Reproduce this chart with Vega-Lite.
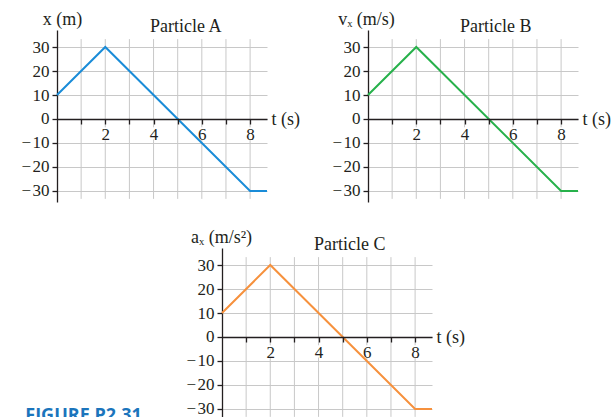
{
  "$schema": "https://vega.github.io/schema/vega-lite/v6.json",
  "background": "white",
  "padding": {"left": 20, "top": 10, "right": 0, "bottom": 0},
  "config": {
    "view": {"stroke": null},
    "font": "Liberation Serif",
    "title": {"font": "Liberation Serif", "fontSize": 18, "fontWeight": "normal", "color": "#231f20", "anchor": "start", "frame": "group", "baseline": "alphabetic", "offset": 0},
    "axis": {"labelFont": "Liberation Serif", "labelFontSize": 17, "labelColor": "#231f20", "titleFont": "Liberation Serif", "titleFontSize": 18, "titleFontWeight": "normal", "titleColor": "#231f20", "domainColor": "#231f20", "tickColor": "#231f20", "domainWidth": 1.3, "tickWidth": 1.3, "tickSize": 5, "gridColor": "#c8c8c8", "gridWidth": 1, "gridOpacity": 1, "labelFlush": false, "labelOverlap": false}
  },
  "datasets": {
    "particles": [
      {"particle": "A", "t": 0, "value": 10},
      {"particle": "A", "t": 2, "value": 30},
      {"particle": "A", "t": 8, "value": -30},
      {"particle": "A", "t": 8.7, "value": -30},
      {"particle": "B", "t": 0, "value": 10},
      {"particle": "B", "t": 2, "value": 30},
      {"particle": "B", "t": 8, "value": -30},
      {"particle": "B", "t": 8.7, "value": -30},
      {"particle": "C", "t": 0, "value": 10},
      {"particle": "C", "t": 2, "value": 30},
      {"particle": "C", "t": 8, "value": -30},
      {"particle": "C", "t": 8.7, "value": -30}
    ],
    "gridT": [{"t": 1}, {"t": 2}, {"t": 3}, {"t": 4}, {"t": 5}, {"t": 6}, {"t": 7}, {"t": 8}],
    "labelT": [{"t": 2}, {"t": 4}, {"t": 6}, {"t": 8}],
    "fig": [{"label": "FIGURE P2.31"}]
  },
  "bounds": "full",
  "spacing": 26,
  "vconcat": [
    {
      "bounds": "flush",
      "spacing": 101,
      "hconcat": [
        {
          "width": 210, "height": 172,
          "title": {"text": "Particle A", "dx": 93, "dy": 30},
          "encoding": {
            "x": {"field": "t", "type": "quantitative", "scale": {"domain": [0, 8.7], "nice": false, "zero": false},
                  "axis": {"title": "t (s)", "titleX": 214, "titleY": 0, "titleAlign": "left", "titleBaseline": "middle", "values": [1, 2, 3, 4, 5, 6, 7, 8], "labelExpr": "datum.value % 2 === 0 ? datum.label : ''", "grid": false, "offset": -83, "labelPadding": 2, "zindex": 1}}
          },
          "layer": [
            {"data": {"name": "gridT"}, "mark": {"type": "rule", "color": "#c8c8c8", "strokeWidth": 1},
             "encoding": {"y": {"datum": 33.3, "type": "quantitative", "scale": {"domain": [-34.6, 37.1], "nice": false, "zero": false},
                                "axis": {"title": "x (m)", "titleAngle": 0, "titleX": 5, "titleY": -6, "titleAlign": "center", "titleBaseline": "alphabetic", "values": [-30, -20, -10, 0, 10, 20, 30], "labelExpr": "datum.value < 0 ? '\u2212\u200a' + abs(datum.value) : datum.label", "grid": true, "labelPadding": 3}},
                          "y2": {"datum": -33.3}}},
            {"data": {"name": "labelT"}, "mark": {"type": "point", "shape": "square", "filled": true, "color": "white", "opacity": 1, "size": 150},
             "encoding": {"y": {"datum": -6, "type": "quantitative", "scale": {"domain": [-34.6, 37.1], "nice": false, "zero": false},
                                "axis": {"title": "x (m)", "titleAngle": 0, "titleX": 5, "titleY": -6, "titleAlign": "center", "titleBaseline": "alphabetic", "values": [-30, -20, -10, 0, 10, 20, 30], "labelExpr": "datum.value < 0 ? '\u2212\u200a' + abs(datum.value) : datum.label", "grid": true, "labelPadding": 3}}}},
            {"data": {"name": "particles"}, "transform": [{"filter": "datum.particle === 'A'"}],
             "mark": {"type": "line", "color": "#1a8cd8", "strokeWidth": 2},
             "encoding": {"y": {"field": "value", "type": "quantitative", "scale": {"domain": [-34.6, 37.1], "nice": false, "zero": false},
                                "axis": {"title": "x (m)", "titleAngle": 0, "titleX": 5, "titleY": -6, "titleAlign": "center", "titleBaseline": "alphabetic", "values": [-30, -20, -10, 0, 10, 20, 30], "labelExpr": "datum.value < 0 ? '\u2212\u200a' + abs(datum.value) : datum.label", "grid": true, "labelPadding": 3}}}}
          ]
        },
        {
          "width": 210, "height": 172,
          "title": {"text": "Particle B", "dx": 92, "dy": 30},
          "encoding": {
            "x": {"field": "t", "type": "quantitative", "scale": {"domain": [0, 8.7], "nice": false, "zero": false},
                  "axis": {"title": "t (s)", "titleX": 214, "titleY": 0, "titleAlign": "left", "titleBaseline": "middle", "values": [1, 2, 3, 4, 5, 6, 7, 8], "labelExpr": "datum.value % 2 === 0 ? datum.label : ''", "grid": false, "offset": -83, "labelPadding": 2, "zindex": 1}}
          },
          "layer": [
            {"data": {"name": "gridT"}, "mark": {"type": "rule", "color": "#c8c8c8", "strokeWidth": 1},
             "encoding": {"y": {"datum": 33.3, "type": "quantitative", "scale": {"domain": [-34.6, 37.1], "nice": false, "zero": false},
                                "axis": {"title": "vₓ (m/s)", "titleAngle": 0, "titleX": -2, "titleY": -6, "titleAlign": "center", "titleBaseline": "alphabetic", "values": [-30, -20, -10, 0, 10, 20, 30], "labelExpr": "datum.value < 0 ? '\u2212\u200a' + abs(datum.value) : datum.label", "grid": true, "labelPadding": 3}},
                          "y2": {"datum": -33.3}}},
            {"data": {"name": "labelT"}, "mark": {"type": "point", "shape": "square", "filled": true, "color": "white", "opacity": 1, "size": 150},
             "encoding": {"y": {"datum": -6, "type": "quantitative", "scale": {"domain": [-34.6, 37.1], "nice": false, "zero": false},
                                "axis": {"title": "vₓ (m/s)", "titleAngle": 0, "titleX": -2, "titleY": -6, "titleAlign": "center", "titleBaseline": "alphabetic", "values": [-30, -20, -10, 0, 10, 20, 30], "labelExpr": "datum.value < 0 ? '\u2212\u200a' + abs(datum.value) : datum.label", "grid": true, "labelPadding": 3}}}},
            {"data": {"name": "particles"}, "transform": [{"filter": "datum.particle === 'B'"}],
             "mark": {"type": "line", "color": "#27b14b", "strokeWidth": 2},
             "encoding": {"y": {"field": "value", "type": "quantitative", "scale": {"domain": [-34.6, 37.1], "nice": false, "zero": false},
                                "axis": {"title": "vₓ (m/s)", "titleAngle": 0, "titleX": -2, "titleY": -6, "titleAlign": "center", "titleBaseline": "alphabetic", "values": [-30, -20, -10, 0, 10, 20, 30], "labelExpr": "datum.value < 0 ? '\u2212\u200a' + abs(datum.value) : datum.label", "grid": true, "labelPadding": 3}}}}
          ]
        }
      ]
    },
    {
      "bounds": "flush",
      "spacing": 112,
      "hconcat": [
        {
          "width": 53, "height": 172,
          "data": {"name": "fig"},
          "mark": {"type": "text", "font": "Open Sans", "fontWeight": "bold", "fontSize": 18, "color": "#1b75bc", "align": "center", "baseline": "alphabetic", "dy": 87},
          "encoding": {"text": {"field": "label", "type": "nominal"}}
        },
        {
          "width": 210, "height": 172,
          "title": {"text": "Particle C", "dx": 92, "dy": 30},
          "encoding": {
            "x": {"field": "t", "type": "quantitative", "scale": {"domain": [0, 8.7], "nice": false, "zero": false},
                  "axis": {"title": "t (s)", "titleX": 214, "titleY": 0, "titleAlign": "left", "titleBaseline": "middle", "values": [1, 2, 3, 4, 5, 6, 7, 8], "labelExpr": "datum.value % 2 === 0 ? datum.label : ''", "grid": false, "offset": -83, "labelPadding": 2, "zindex": 1}}
          },
          "layer": [
            {"data": {"name": "gridT"}, "mark": {"type": "rule", "color": "#c8c8c8", "strokeWidth": 1},
             "encoding": {"y": {"datum": 33.3, "type": "quantitative", "scale": {"domain": [-34.6, 37.1], "nice": false, "zero": false},
                                "axis": {"title": "aₓ (m/s²)", "titleAngle": 0, "titleX": -1, "titleY": -6, "titleAlign": "center", "titleBaseline": "alphabetic", "values": [-30, -20, -10, 0, 10, 20, 30], "labelExpr": "datum.value < 0 ? '\u2212\u200a' + abs(datum.value) : datum.label", "grid": true, "labelPadding": 3}},
                          "y2": {"datum": -33.3}}},
            {"data": {"name": "labelT"}, "mark": {"type": "point", "shape": "square", "filled": true, "color": "white", "opacity": 1, "size": 150},
             "encoding": {"y": {"datum": -6, "type": "quantitative", "scale": {"domain": [-34.6, 37.1], "nice": false, "zero": false},
                                "axis": {"title": "aₓ (m/s²)", "titleAngle": 0, "titleX": -1, "titleY": -6, "titleAlign": "center", "titleBaseline": "alphabetic", "values": [-30, -20, -10, 0, 10, 20, 30], "labelExpr": "datum.value < 0 ? '\u2212\u200a' + abs(datum.value) : datum.label", "grid": true, "labelPadding": 3}}}},
            {"data": {"name": "particles"}, "transform": [{"filter": "datum.particle === 'C'"}],
             "mark": {"type": "line", "color": "#f6913d", "strokeWidth": 2},
             "encoding": {"y": {"field": "value", "type": "quantitative", "scale": {"domain": [-34.6, 37.1], "nice": false, "zero": false},
                                "axis": {"title": "aₓ (m/s²)", "titleAngle": 0, "titleX": -1, "titleY": -6, "titleAlign": "center", "titleBaseline": "alphabetic", "values": [-30, -20, -10, 0, 10, 20, 30], "labelExpr": "datum.value < 0 ? '\u2212\u200a' + abs(datum.value) : datum.label", "grid": true, "labelPadding": 3}}}}
          ]
        }
      ]
    }
  ]
}
